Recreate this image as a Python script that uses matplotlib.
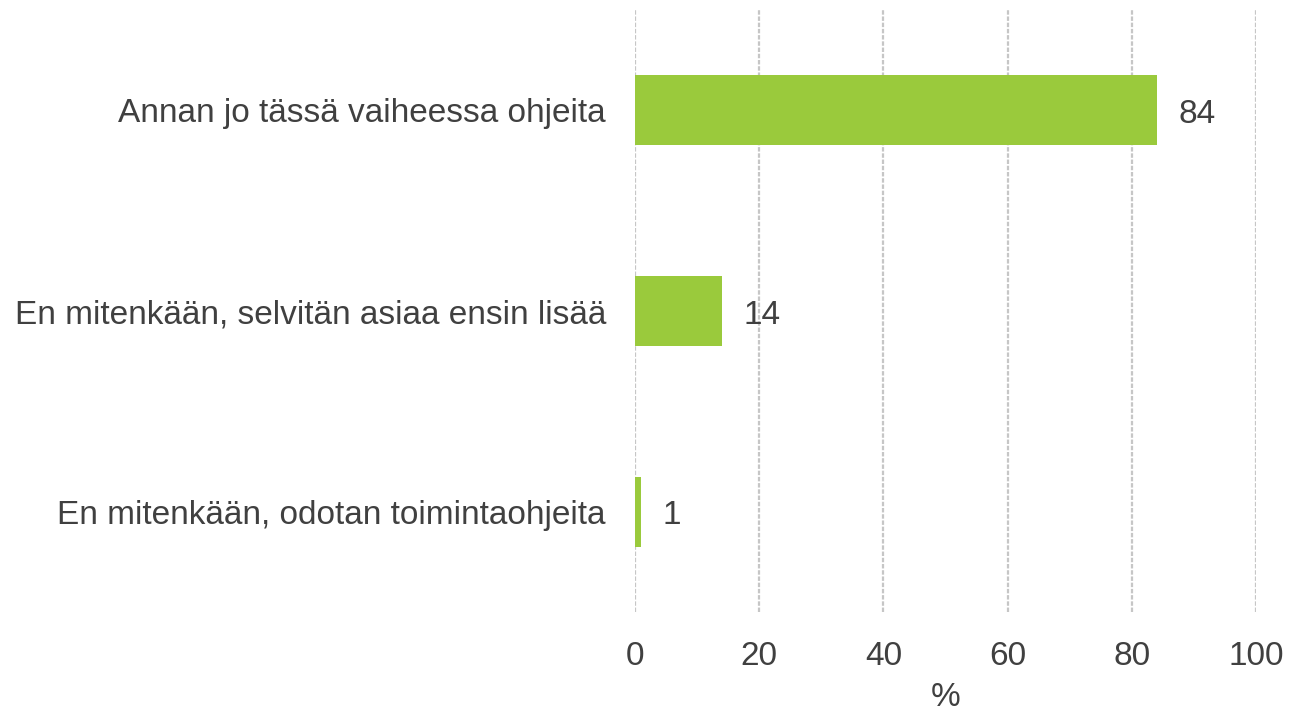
import matplotlib
matplotlib.use("Agg")
import matplotlib.pyplot as plt

categories = ["Annan jo tässä vaiheessa ohjeita",
              "En mitenkään, selvitän asiaa ensin lisää",
              "En mitenkään, odotan toimintaohjeita"]
values = [84, 14, 1]
xticks = [0, 20, 40, 60, 80, 100]

plt.rcParams['font.family'] = ['Liberation Sans', 'DejaVu Sans']
txt = '#404040'
fs = 24

fig = plt.figure(figsize=(12.91, 7.18), dpi=100)
ax = fig.add_axes([0.4919, 0.1476, 0.4810, 0.8384])

y = list(range(len(categories)))
ax.barh(y, values, height=0.35, color='#9ACA3C', zorder=3)
for yi, v in zip(y, values):
    ax.text(v + 3.5, yi + 0.02, f"{v}", va='center', ha='left', fontsize=fs, color=txt)

ax.set_xlim(0, 100)
ax.set_ylim(2.5, -0.5)
ax.set_xticks(xticks)
ax.set_xticklabels([str(t) for t in xticks], fontsize=fs, color=txt)
ax.set_yticks(y)
ax.set_yticklabels(categories, fontsize=fs, color=txt)
ax.tick_params(axis='both', length=0)
ax.tick_params(axis='x', pad=21)
ax.tick_params(axis='y', pad=21)
ax.xaxis.grid(True, color='#C6C6C6', linewidth=1.6, linestyle=(0, (2, 0.8)), zorder=0)
for s in ax.spines.values():
    s.set_visible(False)
ax.set_xlabel("%", fontsize=fs, color=txt, labelpad=7)

fig.savefig("out.png", dpi=100)
